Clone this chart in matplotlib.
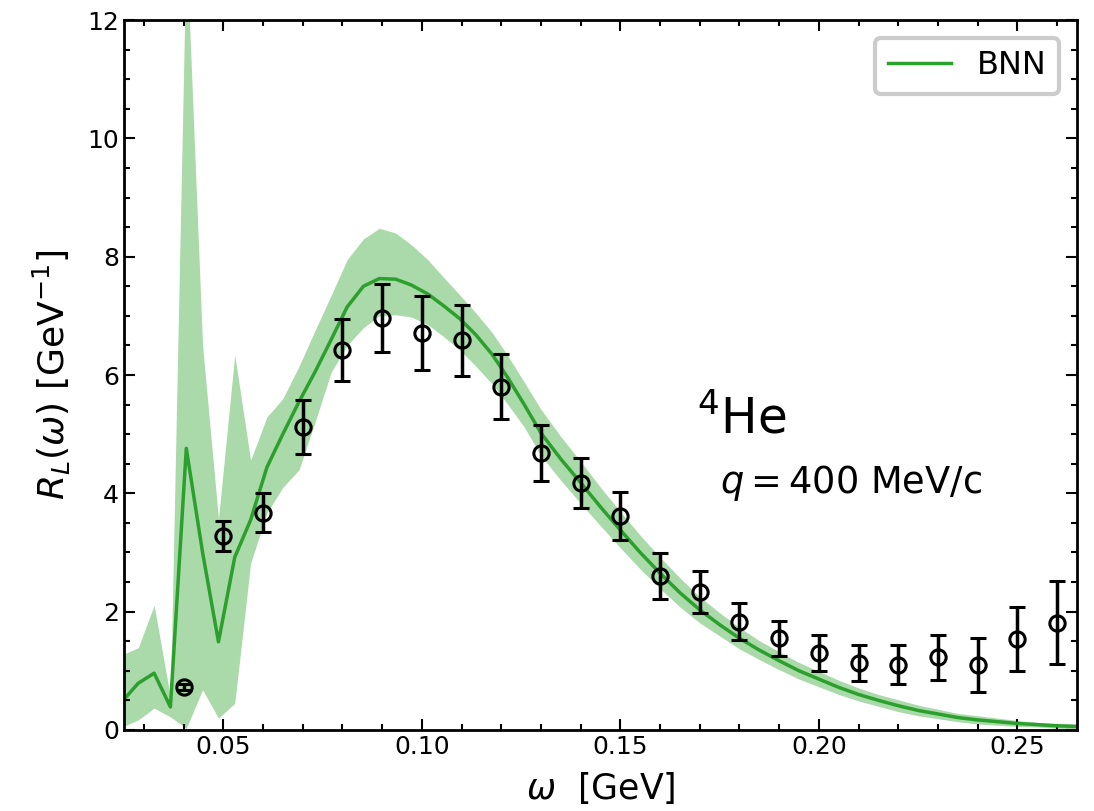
import numpy as np
import matplotlib
matplotlib.use("Agg")
import matplotlib.pyplot as plt
from matplotlib.ticker import MultipleLocator

# BNN prediction (line) and its uncertainty band
omega_bnn = [0.0245, 0.0286, 0.0326, 0.0367, 0.0407, 0.0448, 0.0488, 0.0529,
             0.0569, 0.0610, 0.0650, 0.0691, 0.0731, 0.0772, 0.0812, 0.0853,
             0.0893, 0.0934, 0.0974, 0.1015, 0.1055, 0.1096, 0.1136, 0.1177,
             0.1217, 0.1258, 0.130, 0.135, 0.140, 0.145, 0.150, 0.155, 0.160,
             0.165, 0.170, 0.175, 0.180, 0.185, 0.190, 0.195, 0.200, 0.205,
             0.210, 0.215, 0.220, 0.225, 0.230, 0.235, 0.240, 0.245, 0.250,
             0.255, 0.260, 0.265]
rl_bnn = [0.48, 0.79, 0.96, 0.39, 4.76, 3.00, 1.49, 2.92,
          3.55, 4.44, 5.00, 5.55, 6.05, 6.60, 7.15, 7.50,
          7.63, 7.62, 7.52, 7.37, 7.17, 6.95, 6.68, 6.35,
          5.95, 5.50, 5.02, 4.58, 4.18, 3.77, 3.38, 3.00, 2.65,
          2.32, 2.03, 1.78, 1.55, 1.35, 1.17, 1.00, 0.86, 0.72,
          0.60, 0.50, 0.41, 0.33, 0.27, 0.21, 0.17, 0.14, 0.11,
          0.09, 0.07, 0.06]
rl_upper = [1.27, 1.39, 2.11, 0.55, 13.3, 6.50, 3.57, 6.34,
            4.56, 5.29, 5.60, 6.15, 6.75, 7.35, 7.95, 8.30,
            8.48, 8.40, 8.20, 7.95, 7.65, 7.35, 7.05, 6.72,
            6.32, 5.88, 5.42, 4.96, 4.54, 4.10, 3.69, 3.29, 2.92,
            2.57, 2.25, 1.98, 1.73, 1.51, 1.32, 1.14, 0.99, 0.84,
            0.71, 0.60, 0.51, 0.42, 0.35, 0.28, 0.24, 0.20, 0.16,
            0.13, 0.11, 0.10]
rl_lower = [0.05, 0.17, 0.37, 0.22, 0.03, 0.68, 0.20, 0.45,
            2.82, 3.67, 4.10, 4.40, 5.20, 6.05, 6.50, 6.80,
            7.00, 7.02, 6.98, 6.85, 6.65, 6.42, 6.15, 5.85,
            5.50, 5.12, 4.64, 4.22, 3.83, 3.45, 3.08, 2.72, 2.39,
            2.08, 1.81, 1.59, 1.37, 1.19, 1.02, 0.86, 0.73, 0.60,
            0.49, 0.40, 0.31, 0.24, 0.19, 0.14, 0.10, 0.08, 0.06,
            0.05, 0.03, 0.02]

# measured response with errors
omega_exp = [0.04, 0.05, 0.06, 0.07, 0.08, 0.09, 0.10, 0.11, 0.12, 0.13,
             0.14, 0.15, 0.16, 0.17, 0.18, 0.19, 0.20, 0.21, 0.22, 0.23,
             0.24, 0.25, 0.26]
rl_exp = [0.72, 3.28, 3.67, 5.12, 6.42, 6.96, 6.71, 6.59, 5.80, 4.68,
          4.18, 3.62, 2.60, 2.33, 1.83, 1.55, 1.30, 1.13, 1.10, 1.23,
          1.10, 1.54, 1.81]
rl_err = [0.05, 0.25, 0.33, 0.45, 0.52, 0.57, 0.62, 0.60, 0.55, 0.48,
          0.42, 0.41, 0.39, 0.35, 0.31, 0.30, 0.30, 0.31, 0.33, 0.38,
          0.45, 0.54, 0.70]

fig = plt.figure(figsize=(10.94, 8.11), dpi=100)
ax = fig.add_axes([0.1133, 0.0999, 0.8712, 0.8754])

green = '#2ca02c'
ax.fill_between(omega_bnn, rl_lower, rl_upper, color=green, alpha=0.4, lw=0)
ax.plot(omega_bnn, rl_bnn, color=green, lw=2.5, label='BNN')
ax.errorbar(omega_exp, rl_exp, yerr=rl_err, fmt='o', mfc='none', mec='black',
            ms=11, mew=2.2, ecolor='black', elinewidth=2.5, capsize=6,
            capthick=2.5, zorder=5)

ax.set_xlim(0.025, 0.265)
ax.set_ylim(0, 12)
ax.xaxis.set_major_locator(MultipleLocator(0.05))
ax.xaxis.set_minor_locator(MultipleLocator(0.01))
ax.yaxis.set_major_locator(MultipleLocator(2))
ax.yaxis.set_minor_locator(MultipleLocator(0.5))
ax.tick_params(which='both', direction='in', top=True, right=True,
               labelsize=18, width=1.5)
ax.tick_params(which='major', length=8)
ax.tick_params(which='minor', length=4)
for s in ax.spines.values():
    s.set_linewidth(2)

ax.set_xlabel(r'$\omega$  [GeV]', fontsize=25, labelpad=8)
ax.set_ylabel(r'$R_L(\omega)$ [GeV$^{-1}$]', fontsize=26, labelpad=10)

ax.text(0.601, 0.437, r'$^4$He', transform=ax.transAxes, fontsize=35,
        va='center', ha='left')
ax.text(0.625, 0.348, r'$q = 400$ MeV/c', transform=ax.transAxes,
        fontsize=26.5, va='center', ha='left')

leg = ax.legend(loc='upper right', fontsize=23, handlelength=2.0,
                borderaxespad=0.55, framealpha=1, fancybox=True)
leg.get_frame().set_edgecolor('#cccccc')
leg.get_frame().set_linewidth(3)

fig.savefig('out.png', dpi=100)
